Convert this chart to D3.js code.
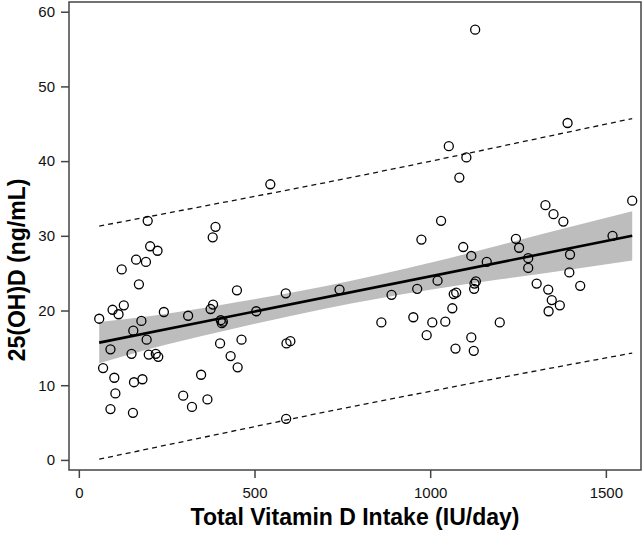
<!DOCTYPE html>
<html>
<head>
<meta charset="utf-8">
<script src="https://cdn.jsdelivr.net/npm/d3@7/dist/d3.min.js"></script>
<style>
  html, body { margin: 0; padding: 0; background: #fff; }
  svg { display: block; }
  .tick text { font-family: "Liberation Sans", Arial, sans-serif; font-size: 15px; fill: #111; }
</style>
</head>
<body>
<svg id="chart" width="644" height="533"></svg>
<script>
// ---- data ----
const intakeIU = [58, 69, 90, 90, 96, 101, 104, 113, 122, 128, 150, 154, 155, 157, 163, 171, 178, 181, 191, 193, 199, 196, 203, 224, 219, 226, 242, 297, 311, 322, 348, 366, 375, 382, 381, 389, 402, 404, 410, 407, 432, 450, 452, 463, 505, 545, 589, 590, 591, 602, 742, 861, 890, 952, 963, 975, 990, 1006, 1021, 1031, 1043, 1053, 1063, 1067, 1074, 1072, 1083, 1094, 1103, 1117, 1117, 1124, 1126, 1130, 1125, 1128, 1161, 1198, 1244, 1253, 1279, 1279, 1303, 1328, 1336, 1337, 1346, 1351, 1369, 1379, 1391, 1396, 1398, 1427, 1519, 1575];
const serumD = [18.9, 12.3, 14.8, 6.8, 20.1, 11.0, 8.9, 19.5, 25.5, 20.7, 14.2, 6.3, 17.3, 10.4, 26.8, 23.5, 18.6, 10.8, 26.5, 16.1, 14.1, 32.0, 28.6, 28.0, 14.2, 13.8, 19.8, 8.6, 19.3, 7.1, 11.4, 8.1, 20.2, 20.8, 29.8, 31.2, 15.6, 18.7, 18.5, 18.3, 13.9, 22.7, 12.4, 16.1, 19.9, 36.9, 22.3, 5.5, 15.6, 15.9, 22.8, 18.4, 22.1, 19.1, 22.9, 29.5, 16.7, 18.4, 24.0, 32.0, 18.5, 42.0, 20.3, 22.2, 22.4, 14.9, 37.8, 28.5, 40.5, 27.3, 16.4, 14.6, 23.6, 23.9, 22.9, 57.6, 26.5, 18.4, 29.6, 28.4, 27.0, 25.7, 23.6, 34.1, 22.8, 19.9, 21.4, 32.9, 20.7, 31.9, 45.1, 25.1, 27.5, 23.3, 30.0, 34.7];

// fitted line, confidence band and prediction interval
const fitX = [58, 1575];
const fitY = [15.7, 30.0];
const bandX = [58, 200, 400, 700, 1000, 1200, 1400, 1575];
const bandLower = [12.95, 14.84, 17.12, 20.25, 22.78, 24.17, 25.5, 26.7];
const bandUpper = [18.45, 19.24, 20.72, 23.25, 26.38, 28.77, 31.2, 33.3];
const piX = [58, 400, 700, 1000, 1250, 1575];
const piLower = [0.1, 3.47, 6.4, 9.18, 11.46, 14.3];
const piUpper = [31.3, 34.37, 37.1, 39.98, 42.46, 45.7];

const xTicks = [0, 500, 1000, 1500];
const yTicks = [0, 10, 20, 30, 40, 50, 60];
const xDomain = [-28, 1600];
const yDomain = [-1.35, 61.3];
const xTitle = "Total Vitamin D Intake (IU/day)";
const yTitle = "25(OH)D (ng/mL)";

// ---- layout ----
const W = 644, H = 533;
const margin = { left: 69, top: 2, right: 3, bottom: 63 };
const iw = W - margin.left - margin.right;
const ih = H - margin.top - margin.bottom;

const svg = d3.select("#chart");
const g = svg.append("g").attr("transform", `translate(${margin.left},${margin.top})`);

const x = d3.scaleLinear().domain(xDomain).range([0, iw]);
const y = d3.scaleLinear().domain(yDomain).range([ih, 0]);

// confidence band
const bandData = bandX.map((v, i) => ({ x: v, lo: bandLower[i], hi: bandUpper[i] }));
g.append("path")
  .datum(bandData)
  .attr("fill", "#bdbdbd")
  .attr("d", d3.area().x(d => x(d.x)).y0(d => y(d.lo)).y1(d => y(d.hi)).curve(d3.curveMonotoneX));

// prediction interval lines
const piLine = d3.line().x(d => x(d[0])).y(d => y(d[1])).curve(d3.curveMonotoneX);
[piLower, piUpper].forEach(arr => {
  g.append("path")
    .datum(piX.map((v, i) => [v, arr[i]]))
    .attr("fill", "none")
    .attr("stroke", "#111")
    .attr("stroke-width", 1.3)
    .attr("stroke-dasharray", "5,4")
    .attr("d", piLine);
});

// fitted line
g.append("path")
  .datum(fitX.map((v, i) => [v, fitY[i]]))
  .attr("fill", "none")
  .attr("stroke", "#000")
  .attr("stroke-width", 2.6)
  .attr("d", d3.line().x(d => x(d[0])).y(d => y(d[1])));

// points
g.append("g")
  .selectAll("circle")
  .data(intakeIU.map((v, i) => [v, serumD[i]]))
  .join("circle")
  .attr("cx", d => x(d[0]))
  .attr("cy", d => y(d[1]))
  .attr("r", 4.5)
  .attr("fill", "none")
  .attr("stroke", "#000")
  .attr("stroke-width", 1.3);

// frame
g.append("rect")
  .attr("x", 0).attr("y", 0).attr("width", iw).attr("height", ih)
  .attr("fill", "none").attr("stroke", "#444").attr("stroke-width", 1.5);

// axes
const xAxis = g.append("g")
  .attr("transform", `translate(0,${ih})`)
  .call(d3.axisBottom(x).tickValues(xTicks).tickFormat(d3.format("d")).tickSize(8).tickPadding(9));
const yAxis = g.append("g")
  .call(d3.axisLeft(y).tickValues(yTicks).tickFormat(d3.format("d")).tickSize(8).tickPadding(6));
[xAxis, yAxis].forEach(a => {
  a.select(".domain").remove();
  a.selectAll(".tick line").attr("stroke", "#444").attr("stroke-width", 1.5);
});

// titles
svg.append("text")
  .attr("x", margin.left + iw / 2)
  .attr("y", 525)
  .attr("text-anchor", "middle")
  .attr("font-family", "'Liberation Sans', Arial, sans-serif")
  .attr("font-weight", "bold")
  .attr("font-size", 23)
  .attr("fill", "#000")
  .text(xTitle);

svg.append("text")
  .attr("transform", `translate(25,270) rotate(-90)`)
  .attr("text-anchor", "middle")
  .attr("font-family", "'Liberation Sans', Arial, sans-serif")
  .attr("font-weight", "bold")
  .attr("font-size", 23)
  .attr("fill", "#000")
  .text(yTitle);
</script>
</body>
</html>
